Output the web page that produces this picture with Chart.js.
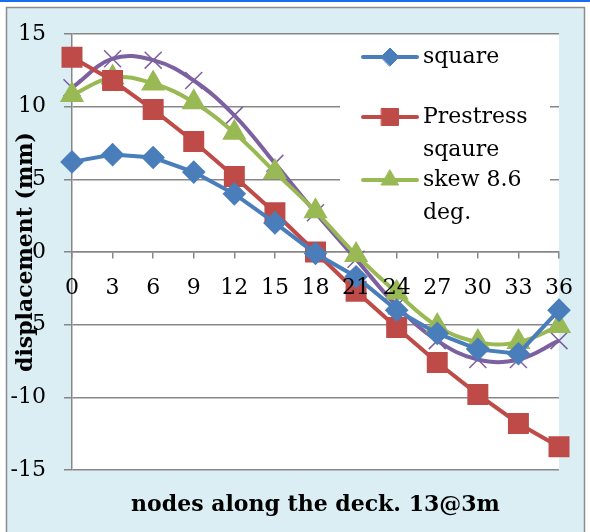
<!DOCTYPE html>
<html>
<head>
<meta charset="utf-8">
<script src="https://cdn.jsdelivr.net/npm/chart.js@4"></script>
<style>
  html, body { margin: 0; padding: 0; background: #fff; }
  #wrap { width: 590px; height: 532px; position: relative; }
</style>
</head>
<body>
<div id="wrap"><canvas id="deckChart"></canvas></div>
<script>
// nodes along the deck (13 @ 3 m)
const nodes = ["0", "3", "6", "9", "12", "15", "18", "21", "24", "27", "30", "33", "36"];
const squareDisp = [6.2, 6.7, 6.5, 5.5, 4.0, 2.0, -0.1, -1.7, -4.0, -5.6, -6.7, -7.0, -4.0];
const prestressDisp = [13.4, 11.8, 9.8, 7.6, 5.2, 2.7, 0, -2.7, -5.2, -7.6, -9.8, -11.8, -13.4];
const skewDisp = [10.8, 12.0, 11.6, 10.3, 8.2, 5.5, 2.8, -0.2, -2.8, -5.1, -6.2, -6.2, -5.1];
const fourthDisp = [11.3, 13.3, 13.2, 11.8, 9.4, 6.1, 2.7, -0.5, -3.7, -6.1, -7.4, -7.4, -6.1];
const yTicks = [-15, -10, -5, 0, 5, 10, 15];

const serif = "'DejaVu Serif', 'Liberation Serif', serif";
const gridGray = '#878787';

// frame: light blue chart area with grey border, white plot area
const framePlugin = {
    id: 'frame',
    beforeDraw(chart) {
        const ctx = chart.ctx, a = chart.chartArea;
        ctx.save();
        ctx.fillStyle = '#fff';
        ctx.fillRect(0, 0, chart.width, chart.height);
        ctx.fillStyle = '#daeef3';
        ctx.fillRect(6, 7, 579, chart.height - 7);
        ctx.strokeStyle = '#8c8c8c';
        ctx.lineWidth = 1.5;
        ctx.strokeRect(6.5, 7.5, 578, chart.height);
        ctx.fillStyle = '#1a6cf0';
        ctx.fillRect(0, 0, chart.width, 2);
        ctx.fillStyle = '#fff';
        ctx.fillRect(a.left, a.top, a.right - a.left, a.bottom - a.top);
        ctx.restore();
    }
};

// legend drawn inside the plot area (top right), like the original
const boxLegend = {
    id: 'boxLegend',
    beforeDatasetsDraw(chart, args, opts) {
        const ctx = chart.ctx;
        ctx.save();
        ctx.fillStyle = '#fff';
        ctx.fillRect(opts.x, opts.y, opts.w, opts.h);
        ctx.font = '22px ' + serif;
        ctx.textBaseline = 'middle';
        ctx.textAlign = 'left';
        opts.items.forEach((item, i) => {
            const ds = chart.data.datasets[item.index];
            const y = opts.rows[i];
            ctx.strokeStyle = ds.borderColor;
            ctx.lineWidth = ds.borderWidth;
            ctx.lineCap = 'round';
            ctx.beginPath();
            ctx.moveTo(opts.lineX, y);
            ctx.lineTo(opts.lineX + opts.lineLen, y);
            ctx.stroke();
            ctx.fillStyle = ds.pointBackgroundColor;
            ctx.strokeStyle = ds.pointBorderColor;
            ctx.lineWidth = 1;
            Chart.helpers.drawPoint(ctx, {pointStyle: ds.pointStyle, radius: ds.pointRadius, borderWidth: 1},
                opts.lineX + opts.lineLen / 2, y);
            ctx.fillStyle = '#000';
            item.lines.forEach((t, k) => ctx.fillText(t, opts.textX, y + k * opts.lineGap));
        });
        ctx.restore();
    }
};

new Chart(document.getElementById('deckChart'), {
    type: 'line',
    data: {
        labels: nodes,
        datasets: [
            {
                label: 'square', data: squareDisp,
                borderColor: '#4a7ebb', backgroundColor: '#4a7ebb',
                pointBackgroundColor: '#4a7ebb', pointBorderColor: '#4a7ebb',
                borderWidth: 4, pointStyle: 'rectRot', pointRadius: 9, tension: 0
            },
            {
                label: 'Prestress sqaure', data: prestressDisp,
                borderColor: '#be4b48', backgroundColor: '#be4b48',
                pointBackgroundColor: '#be4b48', pointBorderColor: '#be4b48',
                borderWidth: 4, pointStyle: 'rect', pointRadius: 12, tension: 0
            },
            {
                label: 'skew 8.6 deg.', data: skewDisp,
                borderColor: '#98b954', backgroundColor: '#98b954',
                pointBackgroundColor: '#98b954', pointBorderColor: '#98b954',
                borderWidth: 4, pointStyle: 'triangle', pointRadius: 10, tension: 0.4
            },
            {
                label: 'series 4', data: fourthDisp,
                borderColor: '#7d60a0', backgroundColor: '#7d60a0',
                pointBackgroundColor: '#7d60a0', pointBorderColor: '#7d60a0',
                borderWidth: 4, pointStyle: 'crossRot', pointRadius: 12, pointBorderWidth: 1.5, tension: 0.4
            }
        ]
    },
    options: {
        responsive: true,
        maintainAspectRatio: false,
        animation: false,
        layout: { padding: { left: 8, top: 34, right: 25, bottom: 0 } },
        plugins: {
            legend: { display: false },
            tooltip: { enabled: false },
            title: {
                display: true,
                position: 'bottom',
                fullSize: false,
                text: 'nodes along the deck. 13@3m',
                color: '#000',
                font: { family: serif, size: 22, weight: 'bold' },
                padding: { top: 22, bottom: 13.6 }
            },
            boxLegend: {
                x: 340, y: 36, w: 210, h: 205,
                lineX: 363, lineLen: 54, textX: 423, lineGap: 33,
                rows: [57, 117, 180],
                items: [
                    { index: 0, lines: ['square'] },
                    { index: 1, lines: ['Prestress', 'sqaure'] },
                    { index: 2, lines: ['skew 8.6', 'deg.'] }
                ]
            }
        },
        scales: {
            x: {
                type: 'category',
                offset: false,
                position: { y: 0 },
                afterFit(scale) { scale.height = 0; },
                grid: { drawOnChartArea: false, drawTicks: true, tickLength: 6, color: gridGray, lineWidth: 1.5 },
                border: { display: true, color: gridGray, width: 1.5 },
                ticks: { color: '#000', font: { family: serif, size: 22 }, padding: 17, maxRotation: 0, autoSkip: false, z: 1 }
            },
            y: {
                min: -15, max: 15,
                afterFit(scale) { scale.width = 64; },
                afterBuildTicks(scale) { scale.ticks = yTicks.map(v => ({ value: v })); },
                grid: { color: gridGray, lineWidth: 1.5, tickLength: 8 },
                border: { display: true, color: gridGray, width: 1.5 },
                ticks: { color: '#000', font: { family: serif, size: 22 }, padding: 18 },
                title: {
                    display: true,
                    text: 'displacement (mm)',
                    color: '#000',
                    font: { family: serif, size: 22, weight: 'bold' },
                    padding: { top: 5, bottom: 0 }
                }
            }
        }
    },
    plugins: [framePlugin, boxLegend]
});
</script>
</body>
</html>
